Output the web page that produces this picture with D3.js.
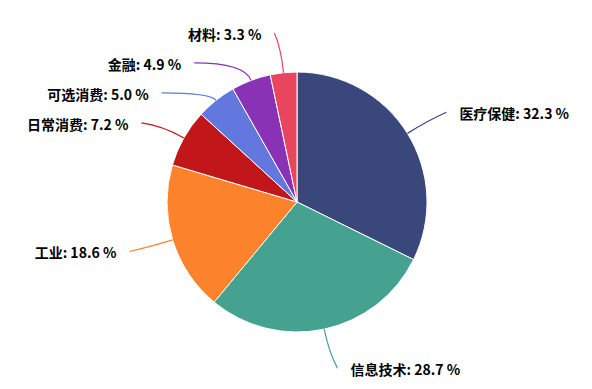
<!DOCTYPE html>
<html>
<head>
<meta charset="utf-8">
<title>行业分布</title>
<style>
body{
  margin:0;
  background:#fff}

svg{
  display:block}

.label{
  font:bold 14px "Noto Sans CJK SC", sans-serif;
  fill:#000}

.slice path{
  stroke:#fff;
  stroke-width:1}
</style>
<script src="https://cdn.jsdelivr.net/npm/d3@7/dist/d3.min.js"></script>
</head>
<body>
<script>
// Data (percent).
const sectors = ['医疗保健', '信息技术', '工业', '日常消费', '可选消费', '金融', '材料']
const shares = [32.3, 28.7, 18.6, 7.2, 5.0, 4.9, 3.3]
const colors = ['#3a477b', '#45a190', '#fc822c', '#c1161a', '#6378de', '#8932b5', '#e8455f']

const width = 592
const height = 389
const cx = 297
const cy = 202
const radius = 130
const bendMax = 25      // max distance of the curve's control point from the slice edge
const labelRadius = 170 // circle the labels are laid out on
const lineLen2 = 5
const textGap = 13
const labelSpacing = 30

const svg = d3.select('body')
  .append('svg')
    .attr('width', width)
    .attr('height', height)

const g = svg.append('g')
    .attr('transform', `translate(${cx}, ${cy})`)

const pie = d3.pie().sort(null).value(d => d.value)
const arc = d3.arc().innerRadius(0).outerRadius(radius)

const data = sectors.map((name, i) => ({ name, value: shares[i], color: colors[i] }))
const arcs = pie(data)

// Slices.
g.selectAll('.slice')
  .data(arcs)
  .enter().append('g')
    .attr('class', 'slice')
  .append('path')
    .attr('d', arc)
    .attr('fill', d => d.data.color)

// Label layout: start on a circle, then push labels down on each side so they don't overlap.
const labels = arcs.map(d => {
  const a = (d.startAngle + d.endAngle) / 2
  const sin = Math.sin(a)
  const cos = Math.cos(a)
  return {
    d, sin, cos,
    side: sin < 0 ? -1 : 1,
    p1: [radius * sin, -radius * cos],
    y: -labelRadius * cos
  }
})

;[-1, 1].forEach(side => {
  const list = labels.filter(l => l.side === side).sort((a, b) => a.y - b.y)
  for (let i = 1; i < list.length; i++) {
    list[i].y = Math.max(list[i].y, list[i - 1].y + labelSpacing)
  }
})

labels.forEach(l => {
  const dy = Math.min(Math.abs(l.y), labelRadius)
  const x = l.side * Math.sqrt(labelRadius * labelRadius - dy * dy)
  l.p3 = [x + l.side * lineLen2, l.y]
  l.tx = l.p3[0] + l.side * textGap
  // control point: go out along the radius until the label's height, capped
  const t = Math.min(Math.abs((l.y - l.p1[1]) / l.cos), bendMax)
  l.p2 = [l.p1[0] + t * l.sin, l.p1[1] - t * l.cos]
})

// Label lines.
g.selectAll('.label-line')
  .data(labels)
  .enter().append('path')
    .attr('class', 'label-line')
    .attr('d', l => `M${l.p1}Q${l.p2} ${l.p3}`)
    .style('fill', 'none')
    .style('stroke', l => l.d.data.color)
    .style('stroke-width', 1.2)

// Label texts.
g.selectAll('.label')
  .data(labels)
  .enter().append('text')
    .attr('class', 'label')
    .attr('x', l => l.tx)
    .attr('y', l => l.y)
    .attr('dy', '0.5em')
    .style('text-anchor', l => l.side < 0 ? 'end' : 'start')
    .text(l => `${l.d.data.name}: ${d3.format('.1f')(l.d.data.value)} %`)
</script>
</body>
</html>
